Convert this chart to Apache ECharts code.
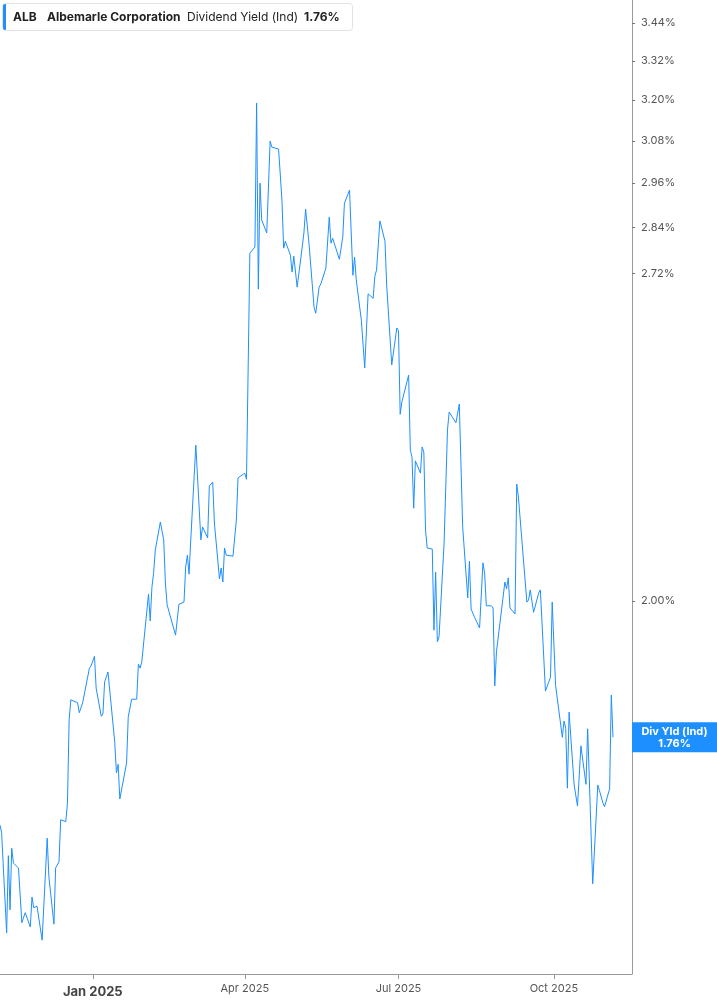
<!DOCTYPE html>
<html>
<head>
<meta charset="utf-8">
<script src="https://cdn.jsdelivr.net/npm/echarts@6/dist/echarts.min.js"></script>
<style>
html,body{margin:0;padding:0;background:#fff;}
#chart{width:717px;height:1005px;}
</style>
</head>
<body>
<div id="chart"></div>
<script>
const ticker = 'ALB';
const company = 'Albemarle Corporation';
const metricName = 'Dividend Yield (Ind)';
const shortName = 'Div Yld (Ind)';

const dates = [
'2024-11-07','2024-11-08','2024-11-11','2024-11-12','2024-11-13','2024-11-14','2024-11-15','2024-11-18','2024-11-20','2024-11-22',
'2024-11-25','2024-11-26','2024-11-27','2024-11-29','2024-12-02','2024-12-05','2024-12-06','2024-12-09','2024-12-10','2024-12-12',
'2024-12-13','2024-12-16','2024-12-17','2024-12-18','2024-12-19','2024-12-20','2024-12-23','2024-12-24','2024-12-26','2024-12-30',
'2024-12-31','2025-01-02','2025-01-03','2025-01-06','2025-01-07','2025-01-08','2025-01-10','2025-01-14','2025-01-15','2025-01-16',
'2025-01-17','2025-01-21','2025-01-22','2025-01-24','2025-01-27','2025-01-28','2025-01-29','2025-01-30','2025-02-03','2025-02-04',
'2025-02-05','2025-02-06','2025-02-07','2025-02-10','2025-02-12','2025-02-13','2025-02-14','2025-02-19','2025-02-20','2025-02-21',
'2025-02-24','2025-02-25','2025-02-26','2025-02-27','2025-02-28','2025-03-03','2025-03-06','2025-03-07','2025-03-10','2025-03-11',
'2025-03-12','2025-03-13','2025-03-14','2025-03-17','2025-03-18','2025-03-19','2025-03-20','2025-03-21','2025-03-25','2025-03-27',
'2025-03-28','2025-04-01','2025-04-02','2025-04-04','2025-04-07','2025-04-08','2025-04-09','2025-04-10','2025-04-11','2025-04-14',
'2025-04-16','2025-04-17','2025-04-21','2025-04-23','2025-04-24','2025-04-25','2025-04-28','2025-04-29','2025-04-30','2025-05-02',
'2025-05-05','2025-05-06','2025-05-07','2025-05-09','2025-05-12','2025-05-13','2025-05-15','2025-05-16','2025-05-19','2025-05-20',
'2025-05-21','2025-05-22','2025-05-23','2025-05-27','2025-05-29','2025-05-30','2025-06-02','2025-06-04','2025-06-05','2025-06-06',
'2025-06-09','2025-06-11','2025-06-13','2025-06-16','2025-06-17','2025-06-18','2025-06-20','2025-06-23','2025-06-24','2025-06-25',
'2025-06-27','2025-06-30','2025-07-01','2025-07-02','2025-07-03','2025-07-07','2025-07-08','2025-07-09','2025-07-10','2025-07-11',
'2025-07-14','2025-07-15','2025-07-16','2025-07-17','2025-07-18','2025-07-21','2025-07-22','2025-07-23','2025-07-24','2025-07-25',
'2025-07-28','2025-07-30','2025-07-31','2025-08-01','2025-08-04','2025-08-06','2025-08-08','2025-08-11','2025-08-12','2025-08-13',
'2025-08-14','2025-08-15','2025-08-18','2025-08-20','2025-08-21','2025-08-22','2025-08-25','2025-08-26','2025-08-27','2025-08-28',
'2025-08-29','2025-09-02','2025-09-03','2025-09-04','2025-09-05','2025-09-08','2025-09-09','2025-09-10','2025-09-15','2025-09-16',
'2025-09-17','2025-09-19','2025-09-22','2025-09-23','2025-09-26','2025-09-29','2025-09-30','2025-10-02','2025-10-06','2025-10-07',
'2025-10-08','2025-10-09','2025-10-10','2025-10-13','2025-10-14','2025-10-15','2025-10-17','2025-10-20','2025-10-21','2025-10-22',
'2025-10-24','2025-10-27','2025-10-28','2025-10-30','2025-10-31','2025-11-03','2025-11-04','2025-11-05'
];

const yields = [
1.621,1.610,1.465,1.575,1.497,1.586,1.564,1.557,1.479,1.493,
1.473,1.515,1.500,1.502,1.455,1.601,1.544,1.477,1.557,1.566,
1.629,1.626,1.655,1.789,1.823,1.826,1.818,1.801,1.818,1.878,
1.882,1.899,1.843,1.795,1.799,1.854,1.871,1.752,1.702,1.716,
1.661,1.718,1.794,1.824,1.824,1.885,1.878,1.889,2.013,1.963,
2.026,2.053,2.098,2.154,2.118,2.034,1.993,1.937,1.935,1.994,
1.998,2.065,2.088,2.051,2.118,2.315,2.118,2.144,2.122,2.228,
2.226,2.236,2.152,2.042,2.063,2.036,2.102,2.088,2.086,2.158,
2.245,2.255,2.242,2.772,2.788,3.191,2.680,2.960,2.859,2.825,
3.079,3.062,3.056,2.913,2.785,2.803,2.767,2.723,2.764,2.685,
2.788,2.825,2.889,2.798,2.635,2.620,2.685,2.693,2.733,2.731,
2.867,2.798,2.811,2.756,2.814,2.905,2.941,2.715,2.761,2.703,
2.603,2.489,2.668,2.657,2.713,2.728,2.857,2.803,2.690,2.685,
2.496,2.584,2.577,2.383,2.411,2.472,2.304,2.289,2.182,2.281,
2.255,2.311,2.300,2.138,2.102,2.100,1.946,2.055,1.925,1.934,
2.112,2.348,2.388,2.386,2.364,2.406,2.144,2.006,2.076,1.985,
1.987,1.970,1.950,2.073,2.053,1.991,1.991,1.987,1.847,1.907,
1.907,2.036,2.023,2.044,1.987,1.976,2.232,2.205,1.998,2.002,
2.021,1.979,2.015,2.021,1.838,1.862,1.998,1.848,1.760,1.787,
1.775,1.678,1.802,1.683,1.683,1.650,1.746,1.684,1.774,1.774,
1.534,1.683,1.674,1.655,1.649,1.677,1.831,1.760
];

const yTicks = [2.00, 2.72, 2.84, 2.96, 3.08, 3.20, 3.32, 3.44];
const xTickDates = ['2025-01-01', '2025-04-01', '2025-07-01', '2025-10-01'];
const xTickLabels = ['Jan 2025', 'Apr 2025', 'Jul 2025', 'Oct 2025'];
const xRange = ['2024-11-07T01:26:00', '2025-11-16T06:00:00'];

function ts(s) { return new Date(s.length === 10 ? s + 'T00:00:00' : s).getTime(); }

const lineColor = '#1e8fff';
const latest = yields[yields.length - 1];
const seriesData = dates.map((d, i) => [ts(d), yields[i]]);
const xTickTs = xTickDates.map(ts);

const chart = echarts.init(document.getElementById('chart'), null, {renderer: 'canvas'});
const FONT = 'Inter, "Noto Sans", sans-serif';

chart.setOption({
  animation: false,
  backgroundColor: '#ffffff',
  textStyle: {fontFamily: FONT},
  grid: {left: 0, right: 85, top: 0, bottom: 31, containLabel: false},
  xAxis: {
    type: 'value',
    min: ts(xRange[0]),
    max: ts(xRange[1]),
    splitLine: {show: false},
    axisLine: {show: true, lineStyle: {color: '#9a9a9a', width: 1}},
    axisTick: {show: true, length: 5, lineStyle: {color: '#9a9a9a'}, customValues: xTickTs},
    axisLabel: {
      customValues: xTickTs,
      margin: 9,
      color: '#555',
      fontSize: 11,
      fontFamily: FONT,
      formatter: function (val) {
        const k = xTickTs.indexOf(val);
        const txt = k >= 0 ? xTickLabels[k] : '';
        return k === 0 ? '{yr|' + txt + '}' : txt;
      },
      rich: {yr: {fontSize: 13, fontWeight: 'bold', color: '#444', fontFamily: FONT, padding: [3, 0, 0, 0]}}
    }
  },
  yAxis: {
    type: 'log',
    logBase: 10,
    position: 'right',
    min: 1.4095,
    max: 3.515,
    splitLine: {show: false},
    axisLine: {show: true, lineStyle: {color: '#9a9a9a', width: 1}},
    axisTick: {show: true, length: 3, lineStyle: {color: '#777'}, customValues: yTicks},
    axisLabel: {
      customValues: yTicks,
      margin: 9,
      color: '#555',
      fontSize: 11,
      fontFamily: FONT,
      formatter: function (v) { return (+v).toFixed(2) + '%'; }
    }
  },
  series: [{
    type: 'line',
    data: seriesData,
    showSymbol: false,
    symbol: 'none',
    lineStyle: {color: lineColor, width: 1},
    itemStyle: {color: lineColor},
    markLine: {
      silent: true,
      symbol: 'none',
      animation: false,
      lineStyle: {color: 'rgba(0,0,0,0)', width: 1, type: 'solid'},
      label: {
        show: true,
        position: 'end',
        distance: 42.5,
        formatter: shortName + '\n' + latest.toFixed(2) + '%',
        backgroundColor: lineColor,
        color: '#ffffff',
        fontWeight: 'bold',
        fontSize: 11,
        fontFamily: FONT,
        lineHeight: 12,
        width: 73,
        align: 'center',
        padding: [3, 6, 3, 6]
      },
      data: [{yAxis: latest}]
    }
  }],
  graphic: [
    {type: 'rect', z: 100, shape: {x: 2.5, y: 3.5, width: 350, height: 27, r: 3}, style: {fill: '#fff', stroke: '#e2e2e2', lineWidth: 1}},
    {type: 'rect', z: 101, shape: {x: 3, y: 4, width: 3, height: 26, r: [2, 0, 0, 2]}, style: {fill: lineColor}},
    {type: 'text', z: 102, style: {x: 13, y: 17, text: ticker, fontSize: 12, fontWeight: 'bold', fontFamily: FONT, fill: '#222', verticalAlign: 'middle'}},
    {type: 'text', z: 102, style: {x: 47, y: 17, text: company, fontSize: 12, fontWeight: 'bold', fontFamily: FONT, fill: '#222', verticalAlign: 'middle'}},
    {type: 'text', z: 102, style: {x: 187, y: 17, text: metricName, fontSize: 12, fontWeight: 'normal', fontFamily: FONT, fill: '#222', verticalAlign: 'middle'}},
    {type: 'text', z: 102, style: {x: 304, y: 17, text: latest.toFixed(2) + '%', fontSize: 12, fontWeight: 'bold', fontFamily: FONT, fill: '#222', verticalAlign: 'middle'}}
  ]
});
</script>
</body>
</html>
